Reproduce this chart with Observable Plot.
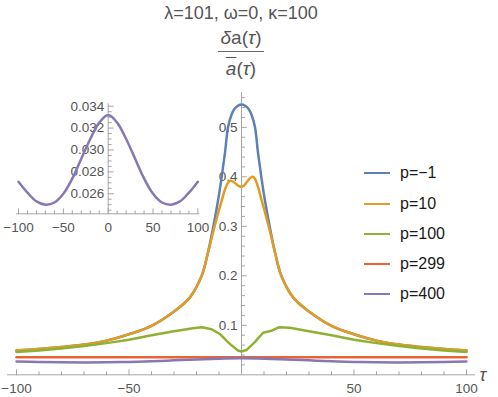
<!DOCTYPE html>
<html><head><meta charset="utf-8">
<script src="https://cdn.jsdelivr.net/npm/d3@7"></script>
<script src="https://cdn.jsdelivr.net/npm/@observablehq/plot@0.6"></script>
<style>
html,body{margin:0;padding:0;background:#fff;}
#wrap{position:relative;width:498px;height:397px;overflow:hidden;font-family:"Liberation Sans",Arial,sans-serif;}
#wrap svg{position:absolute;left:0;top:0;}
.t{position:absolute;white-space:nowrap;color:#555;}
</style></head><body><div id="wrap"></div>
<script>
// ---- data ----
const seriesNames = ["p=\u22121", "p=10", "p=100", "p=299", "p=400"];
const seriesColors = ["#5E81B5", "#E19C24", "#8FB032", "#EB6235", "#8778B3"];

const tauBlue = [-100,-90,-80,-70,-60,-50,-40,-30,-23,-17.7,-15,-12.5,-10.5,-8.8,-7.3,-6,-4.5,-3,-1.5,0,1.5,3,4.5,6,7.3,8.8,10.5,12.5,15,17.7,23,30,40,50,60,70,80,90,100];
const valBlue = [0.049,0.052,0.056,0.061,0.069,0.082,0.099,0.128,0.156,0.200,0.245,0.300,0.350,0.400,0.450,0.500,0.525,0.538,0.544,0.546,0.544,0.538,0.525,0.500,0.450,0.400,0.350,0.300,0.245,0.200,0.156,0.128,0.099,0.082,0.069,0.061,0.056,0.052,0.049];

const tauOrange = [-100,-90,-80,-70,-60,-50,-40,-30,-23,-17.7,-15,-12.5,-10.5,-8.8,-7.3,-6,-5,-4,-2.5,-1,0,1,2.5,4,5,6,7.3,8.8,10.5,12.5,15,17.7,23,30,40,50,60,70,80,90,100];
const valOrange = [0.049,0.052,0.056,0.061,0.069,0.082,0.099,0.128,0.156,0.200,0.245,0.290,0.325,0.352,0.375,0.388,0.392,0.391,0.386,0.381,0.380,0.382,0.390,0.398,0.400,0.396,0.380,0.355,0.327,0.292,0.245,0.200,0.156,0.128,0.099,0.082,0.069,0.061,0.056,0.052,0.049];

const tauGreen = [-100,-90,-80,-70,-60,-50,-40,-30,-21.5,-17.5,-13.3,-9.8,-5.3,-1.6,0,2.2,5.9,9.6,13.3,16.5,21.5,30,40,50,60,70,80,90,100];
const valGreen = [0.046,0.049,0.053,0.058,0.064,0.071,0.080,0.088,0.094,0.096,0.092,0.083,0.063,0.049,0.047,0.050,0.066,0.085,0.089,0.096,0.095,0.088,0.080,0.071,0.064,0.058,0.053,0.049,0.046];

const tauRed = [-100,-50,0,50,100];
const valRed = [0.0355,0.0355,0.0355,0.0355,0.0355];

const tauPurple = [-100,-90,-80,-70,-60,-50,-40,-30,-20,-10,0,10,20,30,40,50,60,70,80,90,100];
const valPurple = [0.0271,0.0261,0.0253,0.0250,0.0252,0.0260,0.0274,0.0292,0.0310,0.0325,0.0332,0.0325,0.0310,0.0292,0.0274,0.0260,0.0252,0.0250,0.0253,0.0261,0.0271];

// main axes ticks
const xMajor = [-100,-50,50,100];
const xMajorLabels = ["\u2212100","\u221250","50","100"];
const xMinor = [-90,-80,-70,-60,-40,-30,-20,-10,10,20,30,40,60,70,80,90];
const yMajor = [0.1,0.2,0.3,0.4,0.5];
const yMajorLabels = ["0.1","0.2","0.3","0.4","0.5"];
const yMinor = [0.02,0.04,0.06,0.08,0.12,0.14,0.16,0.18,0.22,0.24,0.26,0.28,0.32,0.34,0.36,0.38,0.42,0.44,0.46,0.48,0.52,0.54,0.56];

// inset ticks
const insetXMajor = [-100,-50,0,50,100];
const insetXLabels = ["\u2212100","\u221250","0","50","100"];
const insetXMinor = [-90,-80,-70,-60,-40,-30,-20,-10,10,20,30,40,60,70,80,90];
const insetYMajor = [0.026,0.028,0.030,0.032,0.034];
const insetYLabels = ["0.026","0.028","0.030","0.032","0.034"];
const insetYMinor = [0.0245,0.025,0.0255,0.0265,0.027,0.0275,0.0285,0.029,0.0295,0.0305,0.031,0.0315,0.0325,0.033,0.0335];

// ---- build ----
const seriesTau = [tauBlue, tauOrange, tauGreen, tauRed, tauPurple];
const seriesVal = [valBlue, valOrange, valGreen, valRed, valPurple];
const seriesCurve = ["catmull-rom","catmull-rom","linear","linear","catmull-rom"];
const tables = seriesNames.map((name, i) => seriesTau[i].map((t, j) => ({name, tau: t, v: seriesVal[i][j]})));

const axisColor = "#a5a5a5";
const labelColor = "#555";
const font = "Liberation Sans, Arial, sans-serif";
const tickUp = {draw(ctx, l) { ctx.moveTo(0, 0); ctx.lineTo(0, -l); }};

function axesMarks(xMaj, xMin, xLab, yMaj, yMin, yLab, y0, x0) {
  return [
    Plot.ruleY([y0], {stroke: axisColor, strokeWidth: 1}),
    Plot.ruleX([x0], {stroke: axisColor, strokeWidth: 1}),
    Plot.vector(xMin, {x: d => d, y: y0, length: 3, anchor: "start", shape: tickUp, stroke: axisColor, strokeWidth: 1}),
    Plot.vector(xMaj, {x: d => d, y: y0, length: 5, anchor: "start", shape: tickUp, stroke: axisColor, strokeWidth: 1}),
    Plot.vector(yMin, {x: x0, y: d => d, length: 3, rotate: 90, anchor: "start", shape: tickUp, stroke: axisColor, strokeWidth: 1}),
    Plot.vector(yMaj, {x: x0, y: d => d, length: 5, rotate: 90, anchor: "start", shape: tickUp, stroke: axisColor, strokeWidth: 1}),
    Plot.text(xMaj, {x: d => d, y: y0, text: (d, i) => xLab[i], dy: 14, fontSize: 13.5, fill: labelColor, lineAnchor: "middle"}),
    Plot.text(yMaj, {x: x0, y: d => d, text: (d, i) => yLab[i], dx: -4, textAnchor: "end", fontSize: 13.5, fill: labelColor, lineAnchor: "middle"})
  ];
}

const main = Plot.plot({
  width: 498, height: 397,
  marginLeft: 7, marginRight: 23, marginTop: 92.2, marginBottom: 22.7,
  x: {domain: [-104, 104], axis: null},
  y: {domain: [0, 0.57], axis: null},
  color: {domain: seriesNames, range: seriesColors},
  style: {background: "transparent", fontFamily: font},
  marks: [
    ...axesMarks(xMajor, xMinor, xMajorLabels, yMajor, yMinor, yMajorLabels, 0, 0),
    Plot.text(["\u03C4"], {frameAnchor: "bottom-right", text: d => d, dx: 4, dy: 0, textAnchor: "start", fontSize: 18, fontStyle: "italic", fill: labelColor, lineAnchor: "middle"}),
    ...tables.map((tb, i) => Plot.line(tb, {x: "tau", y: "v", stroke: "name", strokeWidth: 2.5, curve: seriesCurve[i]}))
  ]
});

const inset = Plot.plot({
  width: 220, height: 240,
  marginLeft: 16.2, marginRight: 20.8, marginTop: 103.3, marginBottom: 26.7,
  x: {domain: [-102, 102], axis: null},
  y: {domain: [0.02417, 0.03422], axis: null},
  color: {domain: seriesNames, range: seriesColors},
  style: {background: "transparent", fontFamily: font},
  marks: [
    ...axesMarks(insetXMajor, insetXMinor, insetXLabels, insetYMajor, insetYMinor, insetYLabels, 0.02417, 0),
    Plot.line(tables[4], {x: "tau", y: "v", stroke: "name", strokeWidth: 2.5, curve: "catmull-rom"})
  ]
});

const wrap = document.getElementById("wrap");
wrap.appendChild(main);
wrap.appendChild(inset);

// title
const title = document.createElement("div");
title.className = "t";
title.style.cssText = "left:0;width:482px;text-align:center;top:2px;font-size:18px;line-height:22px;";
title.innerHTML = "\u03BB=101, \u03C9=0, \u03BA=100";
wrap.appendChild(title);

// fraction y-axis label
const num = document.createElement("div");
num.className = "t";
num.style.cssText = "left:0;width:482px;text-align:center;top:26.5px;font-size:19px;line-height:22px;";
num.innerHTML = "<i>\u03B4</i>a(<i>\u03C4</i>)";
wrap.appendChild(num);
const bar = document.createElement("div");
bar.style.cssText = "position:absolute;left:218px;top:50.5px;width:46px;height:1px;background:#666;";
wrap.appendChild(bar);
const den = document.createElement("div");
den.className = "t";
den.style.cssText = "left:0;width:482px;text-align:center;top:57.7px;font-size:19px;line-height:22px;";
den.innerHTML = "<i style='text-decoration:overline'>a</i>(<i>\u03C4</i>)";
wrap.appendChild(den);

// legend
const legend = document.createElement("div");
legend.style.cssText = "position:absolute;left:364px;top:158.3px;";
seriesNames.forEach((n, i) => {
  const row = document.createElement("div");
  row.style.cssText = "display:flex;align-items:center;height:30.2px;";
  const sw = document.createElement("span");
  sw.style.cssText = `display:inline-block;width:26px;height:2px;background:${seriesColors[i]};margin-right:10px;`;
  const tx = document.createElement("span");
  tx.style.cssText = "font-size:16px;color:#1a1a1a;line-height:20px;";
  tx.textContent = n;
  row.appendChild(sw); row.appendChild(tx);
  legend.appendChild(row);
});
wrap.appendChild(legend);
</script></body></html>
